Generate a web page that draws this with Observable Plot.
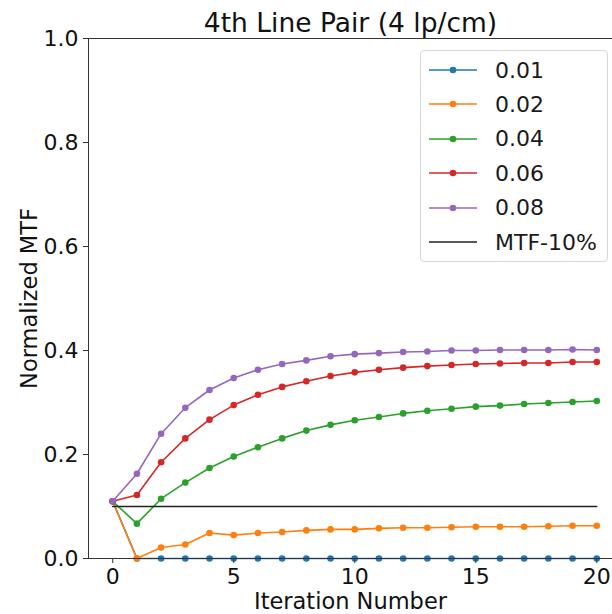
<!DOCTYPE html>
<html>
<head>
<meta charset="utf-8">
<script src="https://cdn.jsdelivr.net/npm/d3@7"></script>
<script src="https://cdn.jsdelivr.net/npm/@observablehq/plot@0.6"></script>
<style>
  html, body { margin: 0; padding: 0; background: #fff; }
  #wrap { position: relative; width: 612px; height: 614px; font-family: "DejaVu Sans", sans-serif; }
  #legend { position: absolute; left: 420px; top: 50px; width: 188px; height: 212px;
    border: 1px solid #d8d8d8; border-radius: 4px; background: rgba(255,255,255,0.8); box-sizing: border-box; }
  .row { position: absolute; left: 0; height: 30px; display: flex; align-items: center; }
  .row svg { margin-left: 7px; }
  .row span { margin-left: 17px; font-size: 22px; color: #1a1a1a; }
</style>
</head>
<body>
<div id="wrap"></div>
<script>
const iterations = d3.range(0, 21);
const seriesNames = ["0.01", "0.02", "0.04", "0.06", "0.08"];
const seriesColors = ["#1f77b4", "#ff7f0e", "#2ca02c", "#d62728", "#9467bd"];
const s001 = [0.11, 0, 0, 0, 0, 0, 0, 0, 0, 0, 0, 0, 0, 0, 0, 0, 0, 0, 0, 0, 0];
const s002 = [0.11, 0.0, 0.021, 0.027, 0.049, 0.045, 0.049, 0.051, 0.054, 0.056, 0.056, 0.058, 0.059, 0.059, 0.060, 0.061, 0.061, 0.061, 0.062, 0.063, 0.063];
const s004 = [0.11, 0.067, 0.115, 0.146, 0.174, 0.196, 0.214, 0.231, 0.246, 0.257, 0.266, 0.272, 0.279, 0.284, 0.288, 0.292, 0.294, 0.297, 0.299, 0.301, 0.303];
const s006 = [0.11, 0.122, 0.185, 0.231, 0.267, 0.295, 0.315, 0.330, 0.341, 0.351, 0.358, 0.363, 0.367, 0.370, 0.372, 0.374, 0.375, 0.376, 0.376, 0.378, 0.378];
const s008 = [0.11, 0.163, 0.240, 0.290, 0.324, 0.347, 0.363, 0.374, 0.381, 0.389, 0.393, 0.395, 0.397, 0.398, 0.400, 0.400, 0.401, 0.401, 0.401, 0.402, 0.401];
const mtf10 = 0.1;
const yTicks = [0, 0.2, 0.4, 0.6, 0.8, 1.0];
const xTicks = [0, 5, 10, 15, 20];
const titleText = "4th Line Pair (4 lp/cm)";
const xLabel = "Iteration Number";
const yLabel = "Normalized MTF";

const allSeries = [s001, s002, s004, s006, s008];
const data = [];
allSeries.forEach((vals, si) => vals.forEach((v, i) => data.push({series: seriesNames[si], x: iterations[i], y: v})));
const mtfLine = [{x: iterations[0], y: mtf10}, {x: iterations[iterations.length - 1], y: mtf10}];

const marks = [];
seriesNames.forEach((name, si) => {
  const d = data.filter(r => r.series === name);
  marks.push(Plot.line(d, {x: "x", y: "y", stroke: seriesColors[si], strokeWidth: 1.6}));
  marks.push(Plot.dot(d, {x: "x", y: "y", fill: seriesColors[si], r: 3.3}));
});
marks.push(Plot.line(mtfLine, {x: "x", y: "y", stroke: "#222", strokeWidth: 1.5}));
// spines
marks.push(Plot.ruleX([-1], {stroke: "#333", strokeWidth: 1}));
marks.push(Plot.ruleY([0], {stroke: "#333", strokeWidth: 1}));
marks.push(Plot.ruleY([1], {stroke: "#333", strokeWidth: 1}));
marks.push(Plot.axisY({ticks: yTicks, tickFormat: d3.format(".1f"), fontSize: 22, tickSize: 5, tickPadding: 5, label: null, stroke: "#333"}));
marks.push(Plot.axisX({ticks: xTicks, tickFormat: d3.format("d"), fontSize: 22, tickSize: 5, tickPadding: 5, label: null, stroke: "#333"}));
marks.push(Plot.text([titleText], {frameAnchor: "top", lineAnchor: "middle", dy: -15, fontSize: 26.5, fill: "#111"}));
marks.push(Plot.text([xLabel], {frameAnchor: "bottom", lineAnchor: "middle", dy: 43, fontSize: 22.5, fill: "#111"}));
marks.push(Plot.text([yLabel], {frameAnchor: "left", textAnchor: "middle", lineAnchor: "middle", dx: -59, rotate: -90, fontSize: 22.5, fill: "#111"}));

const chart = Plot.plot({
  width: 612,
  height: 614,
  marginLeft: 88,
  marginRight: 0,
  marginTop: 38,
  marginBottom: 56,
  style: {fontFamily: "DejaVu Sans, sans-serif", color: "#111", background: "#fff", overflow: "visible"},
  x: {domain: [-1, 20.65]},
  y: {domain: [0, 1]},
  marks
});
const wrap = document.getElementById("wrap");
wrap.appendChild(chart);

// legend
const legend = document.createElement("div");
legend.id = "legend";
const legendItems = seriesNames.map((n, i) => ({label: n, color: seriesColors[i], dot: true}))
  .concat([{label: "MTF-10%", color: "#222", dot: false}]);
legendItems.forEach((it, i) => {
  const row = document.createElement("div");
  row.className = "row";
  row.style.top = (4 + i * 34.4) + "px";
  row.innerHTML = `<svg width="50" height="12"><line x1="1" y1="6" x2="49" y2="6" stroke="${it.color}" stroke-width="1.6"/>` +
    (it.dot ? `<circle cx="25" cy="6" r="3.3" fill="${it.color}"/>` : "") + `</svg><span>${it.label}</span>`;
  legend.appendChild(row);
});
wrap.appendChild(legend);
</script>
</body>
</html>
